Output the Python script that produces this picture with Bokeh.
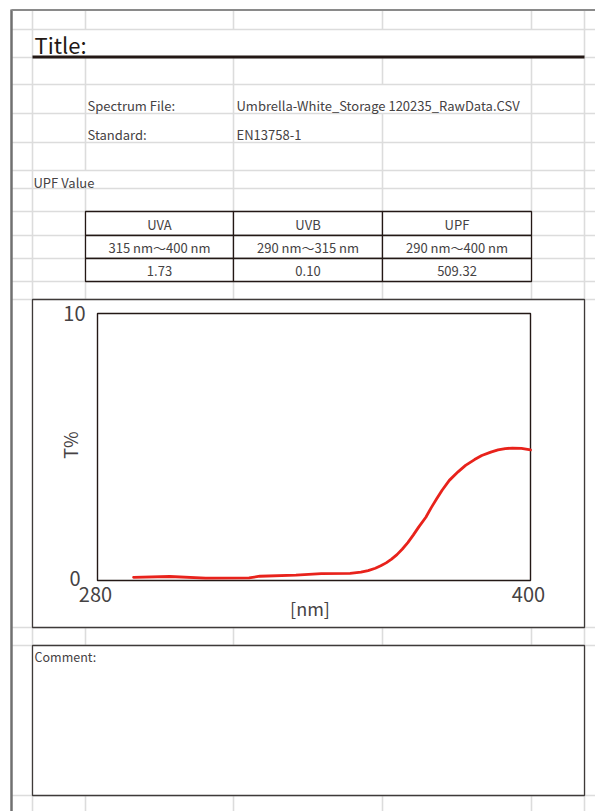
from bokeh.plotting import figure
from bokeh.models import Range1d
from bokeh.core.properties import value
from bokeh.embed import file_html
from bokeh.resources import INLINE

# ---------------- data ----------------
spectrum_file = "Umbrella-White_Storage 120235_RawData.CSV"
standard_name = "EN13758-1"
band_names = ["UVA", "UVB", "UPF"]
band_ranges = ["315 nm～400 nm", "290 nm～315 nm", "290 nm～400 nm"]
band_values = [1.73, 0.10, 509.32]

wavelength_nm = [290, 300, 310, 322, 325, 335, 342, 350, 353, 355, 357, 358.5, 360, 361.5, 363,
                 364.5, 366, 367.5, 369, 371, 372.5, 374, 375.5, 377.5, 380, 382, 384.5, 386.5,
                 389, 391, 393, 395, 397.5, 400]
transmittance_pct = [0.12, 0.15, 0.09, 0.10, 0.16, 0.20, 0.26, 0.27, 0.31, 0.37, 0.46, 0.55, 0.66, 0.80, 0.97,
                     1.18, 1.42, 1.70, 2.00, 2.37, 2.73, 3.06, 3.38, 3.75, 4.08, 4.31, 4.53, 4.68,
                     4.81, 4.89, 4.94, 4.96, 4.95, 4.89]

x_ticks = [280, 400]
y_ticks = [0, 10]
x_label = "[nm]"
y_label = "T%"

# ---------------- layout (page pixels) ----------------
FONT = value("Noto Sans CJK JP")
TXT = "#454243"
DARK = "#231815"
GRID = "#dcdcdc"
W, H = 595, 811
X0, Y0 = 0, 0
XR, YB = X0 + W, Y0 + H

COLS = [32, 85, 233, 382, 531, 584]
ROWS = [29, 57, 84, 113, 142, 170, 188, 211, 235, 258, 281, 299, 627, 645, 795]
PL, PR, PT, PB = 97, 530, 313, 580          # inner plot frame
CH = (32, 584, 299, 627)                    # chart box
CM = (32, 584, 645, 795)                    # comment box
TC = [85, 233, 382, 531]                    # table columns
TR = [211, 235, 258, 281]                   # table rows

p = figure(width=W, height=H, x_range=Range1d(X0, XR), y_range=Range1d(YB, Y0),
           x_axis_type=None, y_axis_type=None, output_backend="svg",
           toolbar_location=None, min_border=0)
p.grid.visible = False
p.outline_line_color = None
p.background_fill_color = "white"
p.border_fill_color = "white"

# spreadsheet grid: vertical lines with gaps where text overflows / merged cells
gaps = {85: [(29, 57), (170, 188)], 233: [(29, 57)], 382: [(29, 57), (84, 113)], 531: [(29, 57)]}
vx0, vy0, vy1 = [], [], []
for cx in COLS:
    segs = [(9, YB)]
    for g0, g1 in gaps.get(cx, []):
        new = []
        for a, b in segs:
            if g1 <= a or g0 >= b:
                new.append((a, b))
            else:
                if a < g0:
                    new.append((a, g0))
                if g1 < b:
                    new.append((g1, b))
        segs = new
    for a, b in segs:
        vx0.append(cx); vy0.append(a); vy1.append(b)
p.segment(x0=vx0, y0=vy0, x1=vx0, y1=vy1, line_color=GRID, line_width=1.6)
p.segment(x0=[11] * len(ROWS), y0=ROWS, x1=[XR] * len(ROWS), y1=ROWS, line_color=GRID, line_width=1.6)

# page border
p.segment(x0=[11], y0=[9], x1=[11], y1=[YB], line_color="#707070", line_width=2.5)
p.segment(x0=[11], y0=[9.5], x1=[XR], y1=[9.5], line_color="#8a8a8a", line_width=2)

# title
p.text(x=[34], y=[43], text=["Title:"], text_font=FONT, text_font_size="22px",
       text_color=DARK, text_baseline="middle", text_align="left")
p.segment(x0=[32], y0=[56.5], x1=[584], y1=[56.5], line_color=DARK, line_width=3.2)

# info rows
p.text(x=[87, 87], y=[105, 134], text=["Spectrum File:", "Standard:"], text_font=FONT,
       text_font_size="13px", text_color=TXT, text_baseline="middle")
p.text(x=[236, 236], y=[105, 134], text=[spectrum_file, standard_name], text_font=FONT,
       text_font_size="13px", text_color=TXT, text_baseline="middle")
p.text(x=[33], y=[182], text=["UPF Value"], text_font=FONT,
       text_font_size="13px", text_color=TXT, text_baseline="middle")

# UPF table
rows_txt = [band_names, band_ranges, [f"{v:.2f}" for v in band_values]]
ql, qr, qt, qb, tx, ty, tt = [], [], [], [], [], [], []
for r, row in enumerate(rows_txt):
    for c, s in enumerate(row):
        ql.append(TC[c]); qr.append(TC[c + 1]); qt.append(TR[r]); qb.append(TR[r + 1])
        tx.append((TC[c] + TC[c + 1]) / 2); ty.append((TR[r] + TR[r + 1]) / 2 + 0.5); tt.append(s)
p.quad(left=ql, right=qr, top=qt, bottom=qb, fill_color="white", line_color=DARK, line_width=1.3)
p.text(x=tx, y=ty, text=tt, text_font=FONT, text_font_size="13px", text_color=TXT,
       text_align="center", text_baseline="middle")

# chart box and comment box
p.quad(left=[CH[0], CM[0]], right=[CH[1], CM[1]], top=[CH[2], CM[2]], bottom=[CH[3], CM[3]],
       fill_color="white", line_color="#3e3a39", line_width=1.3)
p.text(x=[34], y=[656], text=["Comment:"], text_font=FONT, text_font_size="12.5px",
       text_color=TXT, text_baseline="middle")

# spectrum chart, mapped through its own ranges onto the inner frame
nx = lambda px: x_ticks[0] + (px - PL) * (x_ticks[1] - x_ticks[0]) / (PR - PL)
ny = lambda py: y_ticks[0] + (PB - py) * (y_ticks[1] - y_ticks[0]) / (PB - PT)
p.extra_x_ranges = {"nm": Range1d(nx(X0), nx(XR))}
p.extra_y_ranges = {"pct": Range1d(ny(YB), ny(Y0))}

p.quad(left=[x_ticks[0]], right=[x_ticks[1]], bottom=[y_ticks[0]], top=[y_ticks[1]],
       x_range_name="nm", y_range_name="pct", fill_color="white", line_color=DARK, line_width=1.4)
p.line(wavelength_nm, transmittance_pct, x_range_name="nm", y_range_name="pct",
       line_color="#e8221b", line_width=2.8, line_join="round", line_cap="round")

# tick labels
p.text(x=x_ticks, y=[y_ticks[0]] * 2, text=[str(v) for v in x_ticks], x_range_name="nm",
       y_range_name="pct", text_font=FONT, text_font_size="20px", text_color=TXT,
       text_align="center", text_baseline="middle", x_offset=-2, y_offset=14)
p.text(x=[x_ticks[0]] * 2, y=y_ticks, text=[str(v) for v in y_ticks], x_range_name="nm",
       y_range_name="pct", text_font=FONT, text_font_size="20px", text_color=TXT,
       text_align="right", text_baseline="middle", x_offset=[-17, -12], y_offset=[-2, 0])
p.text(x=[(x_ticks[0] + x_ticks[1]) / 2], y=[y_ticks[0]], text=[x_label], x_range_name="nm",
       y_range_name="pct", text_font=FONT, text_font_size="18px", text_color=TXT,
       text_align="center", text_baseline="middle", x_offset=-4, y_offset=27)
p.text(x=[x_ticks[0]], y=[(y_ticks[0] + y_ticks[1]) / 2], text=[y_label], x_range_name="nm",
       y_range_name="pct", text_font=FONT, text_font_size="18px", text_color=TXT,
       text_align="center", text_baseline="middle", angle=1.5708, x_offset=-28, y_offset=-2)

open("out.html", "w").write(file_html(p, INLINE))
